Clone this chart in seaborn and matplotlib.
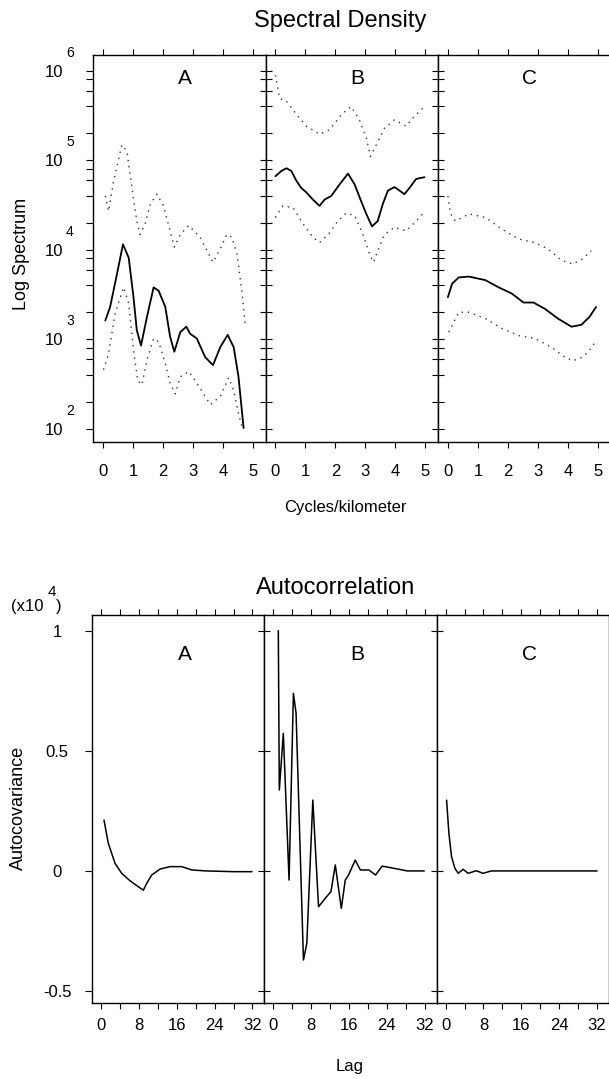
import numpy as np
import pandas as pd
import matplotlib
matplotlib.use("Agg")
import matplotlib.pyplot as plt
import matplotlib.transforms as mtransforms
from matplotlib.ticker import FixedLocator, MultipleLocator, NullFormatter
import seaborn as sns

# ---------------- data ----------------
panels = ["A", "B", "C"]

# Spectral density (solid = estimate, dotted = upper / lower bounds)
specA_x = [0.08, 0.24, 0.47, 0.67, 0.86, 1.02, 1.13, 1.27, 1.47, 1.69, 1.86, 2.08, 2.24, 2.38, 2.58,
           2.78, 2.91, 3.13, 3.41, 3.67, 3.91, 4.16, 4.36, 4.52, 4.69]
specA_y = [1620, 2290, 5370, 11500, 8130, 2950, 1260, 850, 1780, 3800, 3470, 2290, 1070, 725, 1200,
           1380, 1150, 1020, 630, 513, 813, 1120, 813, 380, 102]
specA_up_x = [0.08, 0.19, 0.36, 0.63, 0.8, 0.97, 1.13, 1.24, 1.41, 1.58, 1.8, 2.02, 2.24, 2.38, 2.58,
              2.86, 3.24, 3.67, 3.91, 4.13, 4.3, 4.47, 4.63, 4.74]
specA_up_y = [39800, 26900, 58900, 148000, 126000, 49000, 20900, 14800, 19500, 32400, 41700, 30900,
              16200, 10700, 14800, 18600, 13800, 7240, 10200, 14800, 13800, 8910, 3470, 1480]
specA_lo_x = [0.02, 0.19, 0.41, 0.69, 0.86, 1.02, 1.16, 1.3, 1.47, 1.69, 1.86, 2.08, 2.24, 2.41, 2.58,
              2.86, 3.13, 3.58, 3.91, 4.19, 4.36, 4.52, 4.63]
specA_lo_y = [457, 692, 1950, 3800, 2510, 759, 347, 309, 589, 1020, 933, 537, 324, 245, 380,
              437, 324, 186, 229, 372, 269, 148, 107]

specB_x = [0.0, 0.2, 0.37, 0.53, 0.7, 0.86, 1.03, 1.25, 1.47, 1.64, 1.86, 2.14, 2.42, 2.64, 2.86,
           3.03, 3.22, 3.41, 3.58, 3.75, 3.97, 4.14, 4.3, 4.47, 4.69, 4.97]
specB_y = [66100, 75900, 81300, 75900, 58900, 49000, 43700, 36300, 30900, 36300, 39800, 53700, 70800,
           53700, 34700, 25100, 18200, 20900, 32400, 45700, 50100, 45700, 41700, 49000, 61700, 64600]
specB_up_x = [0.0, 0.14, 0.37, 0.7, 1.03, 1.47, 1.81, 2.2, 2.53, 2.8, 3.03, 3.17, 3.36, 3.64, 3.97,
              4.36, 4.63, 4.91]
specB_up_y = [891000, 490000, 457000, 324000, 240000, 195000, 219000, 324000, 398000, 282000, 178000,
              110000, 148000, 229000, 282000, 240000, 309000, 380000]
specB_lo_x = [0.0, 0.25, 0.59, 0.92, 1.25, 1.47, 1.81, 2.08, 2.36, 2.64, 2.92, 3.14, 3.27, 3.41, 3.64,
              3.97, 4.36, 4.69, 4.91]
specB_lo_y = [22900, 30900, 29500, 19500, 13800, 12000, 15500, 20900, 25700, 24000, 14800, 8910, 7240,
              9770, 14800, 17800, 16200, 20900, 25100]

specC_x = [0.0, 0.14, 0.36, 0.7, 1.25, 1.69, 2.13, 2.52, 2.85, 3.23, 3.67, 4.12, 4.45, 4.72, 4.94]
specC_y = [2950, 4170, 4900, 5010, 4570, 3800, 3240, 2570, 2570, 2190, 1700, 1380, 1450, 1780, 2290]
specC_up_x = [0.0, 0.09, 0.25, 0.7, 1.25, 1.8, 2.35, 2.9, 3.34, 3.79, 4.17, 4.5, 4.78]
specC_up_y = [39800, 25100, 20900, 25100, 22900, 17000, 13200, 12000, 10200, 7590, 6920, 7940, 9770]
specC_lo_x = [0.03, 0.36, 0.7, 1.25, 1.8, 2.35, 2.9, 3.45, 3.9, 4.17, 4.5, 4.78, 4.94]
specC_lo_y = [1200, 2000, 2000, 1700, 1320, 1100, 1020, 813, 631, 575, 631, 794, 977]

# Autocovariance (x 10^4)
acA_lag = [0.63, 1.55, 2.96, 4.37, 6.13, 7.9, 8.95, 9.65, 10.7, 12.5, 14.6, 17.05, 19.2, 22.3, 28, 31.9]
acA_val = [0.211, 0.114, 0.031, -0.011, -0.042, -0.067, -0.081, -0.053, -0.018, 0.007, 0.017, 0.017,
           0.003, -0.001, -0.004, -0.004]
acB_lag = [1.06, 1.27, 2.12, 3.33, 4.25, 4.81, 6.37, 7.08, 8.35, 9.56, 10.97, 12.18, 13.1, 14.37, 15.2,
           15.9, 17.3, 18.4, 20.2, 21.6, 23.0, 25.5, 28.3, 31.9]
acB_val = [1.0, 0.336, 0.572, -0.039, 0.739, 0.656, -0.372, -0.303, 0.294, -0.15, -0.115, -0.087, 0.024,
           -0.157, -0.039, -0.018, 0.044, 0.003, 0.003, -0.018, 0.019, 0.01, -0.001, -0.001]
acC_lag = [0.21, 0.7, 1.26, 1.96, 2.66, 3.7, 4.75, 6.5, 7.9, 9.64, 16.6, 32]
acC_val = [0.294, 0.156, 0.058, 0.010, -0.011, 0.006, -0.011, 0.0, -0.011, -0.001, -0.001, -0.001]

spec_xticks = [0, 1, 2, 3, 4, 5]
spec_ymajor = [1e2, 1e3, 1e4, 1e5, 1e6]
spec_exponents = ["2", "3", "4", "5", "6"]
ac_yticks = [1, 0.5, 0, -0.5]
ac_yticklabels = ["1", "0.5", "0", "-0.5"]

# ---------------- style ----------------
sns.set_style("ticks")
plt.rcParams["font.family"] = ["Liberation Sans", "DejaVu Sans"]
plt.rcParams["axes.linewidth"] = 1.0
for key in ("text.color", "axes.labelcolor", "xtick.color", "ytick.color", "axes.edgecolor"):
    plt.rcParams[key] = "black"

W, H = 609, 1079
fig = plt.figure(figsize=(W / 100, H / 100), dpi=100)

def fx(x):
    return x / W

def fy(y):
    return 1 - y / H

PT = 0.72  # px -> pt

spec_sets = [
    (specA_x, specA_y, specA_up_x, specA_up_y, specA_lo_x, specA_lo_y),
    (specB_x, specB_y, specB_up_x, specB_up_y, specB_lo_x, specB_lo_y),
    (specC_x, specC_y, specC_up_x, specC_up_y, specC_lo_x, specC_lo_y),
]
ac_sets = [(acA_lag, acA_val), (acB_lag, acB_val), (acC_lag, acC_val)]

dot_style = dict(color="#333333", linewidth=1.0, linestyle=(0, (1, 3.5)))
solid_style = dict(color="black", linewidth=1.3)

# ---------------- top row: spectral density ----------------
top_left, top_w, top_top, top_bot = 93, 172.5, 55, 442
minor_spec = [m * 10 ** k for k in range(2, 6) for m in (2, 4, 6, 8)]
for i, name in enumerate(panels):
    ax = fig.add_axes([fx(top_left + i * top_w), fy(top_bot), top_w / W, (top_bot - top_top) / H])
    sx, sy, ux, uy, lx, ly = spec_sets[i]
    sns.lineplot(x=ux, y=uy, ax=ax, estimator=None, sort=False, **dot_style)
    sns.lineplot(x=lx, y=ly, ax=ax, estimator=None, sort=False, **dot_style)
    sns.lineplot(x=sx, y=sy, ax=ax, estimator=None, sort=False, **solid_style)
    ax.set_yscale("log")
    ax.set_ylim(10 ** 1.852, 10 ** 6.175)
    ax.set_xlim(-0.33, 5.42)
    ax.set_xlabel("")
    ax.set_ylabel("")
    ax.yaxis.set_major_locator(FixedLocator(spec_ymajor))
    ax.yaxis.set_minor_locator(FixedLocator(minor_spec))
    ax.yaxis.set_minor_formatter(NullFormatter())
    ax.set_xticks(spec_xticks)
    ax.set_xticklabels([str(t) for t in spec_xticks], fontsize=12)
    ax.tick_params(axis="x", which="both", direction="out", top=True, bottom=True,
                   length=4.5, width=0.8, pad=11)
    if i == 0:
        ax.tick_params(axis="y", which="both", direction="out", left=True, right=False,
                       length=5, width=0.8, pad=23)
        ax.set_yticklabels(["10"] * len(spec_ymajor), fontsize=12)
        for t in ax.get_yticklabels():
            t.set_ha("center")
        base = ax.get_yaxis_transform()
        for val, ex in zip(spec_ymajor, spec_exponents):
            tr = mtransforms.offset_copy(base, fig=fig, x=-23 * PT, y=18 * PT, units="points")
            ax.text(0, val, ex, transform=tr, ha="center", va="center", fontsize=10)
    else:
        ax.tick_params(axis="y", which="both", direction="inout", left=True, right=False,
                       length=8, width=0.8, labelleft=False)
    for s in ax.spines.values():
        s.set_visible(True)
        s.set_linewidth(1.0)
    ax.text(0.53, 0.94, name, transform=ax.transAxes, ha="center", va="center", fontsize=15)

# ---------------- bottom row: autocorrelation ----------------
bot_left, bot_w, bot_top, bot_bot = 92, 172.3, 615, 1003
for i, name in enumerate(panels):
    ax = fig.add_axes([fx(bot_left + i * bot_w), fy(bot_bot), bot_w / W, (bot_bot - bot_top) / H])
    lag, val = ac_sets[i]
    sns.lineplot(x=lag, y=val, ax=ax, estimator=None, sort=False, color="black", linewidth=1.1)
    ax.set_xlim(-1.9, 34.5)
    ax.set_ylim(-0.551, 1.065)
    ax.set_xlabel("")
    ax.set_ylabel("")
    ax.xaxis.set_major_locator(MultipleLocator(8))
    ax.xaxis.set_minor_locator(MultipleLocator(4))
    ax.set_xticks([0, 8, 16, 24, 32])
    ax.set_xticklabels(["0", "8", "16", "24", "32"], fontsize=12)
    ax.tick_params(axis="x", which="both", direction="out", top=True, bottom=True,
                   length=4.5, width=0.8, pad=6)
    ax.set_yticks(ac_yticks)
    if i == 0:
        ax.set_yticklabels(ac_yticklabels, fontsize=12)
        ax.tick_params(axis="y", which="both", direction="out", left=True, right=False,
                       length=5, width=0.8, pad=20)
        for t in ax.get_yticklabels():
            t.set_ha("center")
    else:
        ax.tick_params(axis="y", which="both", direction="inout", left=True, right=False,
                       length=8, width=0.8, labelleft=False)
    for s in ax.spines.values():
        s.set_visible(True)
        s.set_linewidth(1.0)
    ax.text(0.54, 0.897, name, transform=ax.transAxes, ha="center", va="center", fontsize=15)

# ---------------- figure texts ----------------
fig.text(fx(340), fy(21), "Spectral Density", ha="center", va="center", fontsize=17)
fig.text(fx(345), fy(507), "Cycles/kilometer", ha="center", va="center", fontsize=12)
fig.text(fx(22), fy(254), "Log Spectrum", ha="center", va="center", rotation=90, fontsize=13)
fig.text(fx(336), fy(588), "Autocorrelation", ha="center", va="center", fontsize=17)
fig.text(fx(350), fy(1066), "Lag", ha="center", va="center", fontsize=12)
fig.text(fx(18), fy(808), "Autocovariance", ha="center", va="center", rotation=90, fontsize=13)
fig.text(fx(11), fy(606), "(x10", ha="left", va="center", fontsize=12)
fig.text(fx(52), fy(592), "4", ha="center", va="center", fontsize=11)
fig.text(fx(59), fy(606), ")", ha="center", va="center", fontsize=12)

fig.savefig("out.png", dpi=100)
